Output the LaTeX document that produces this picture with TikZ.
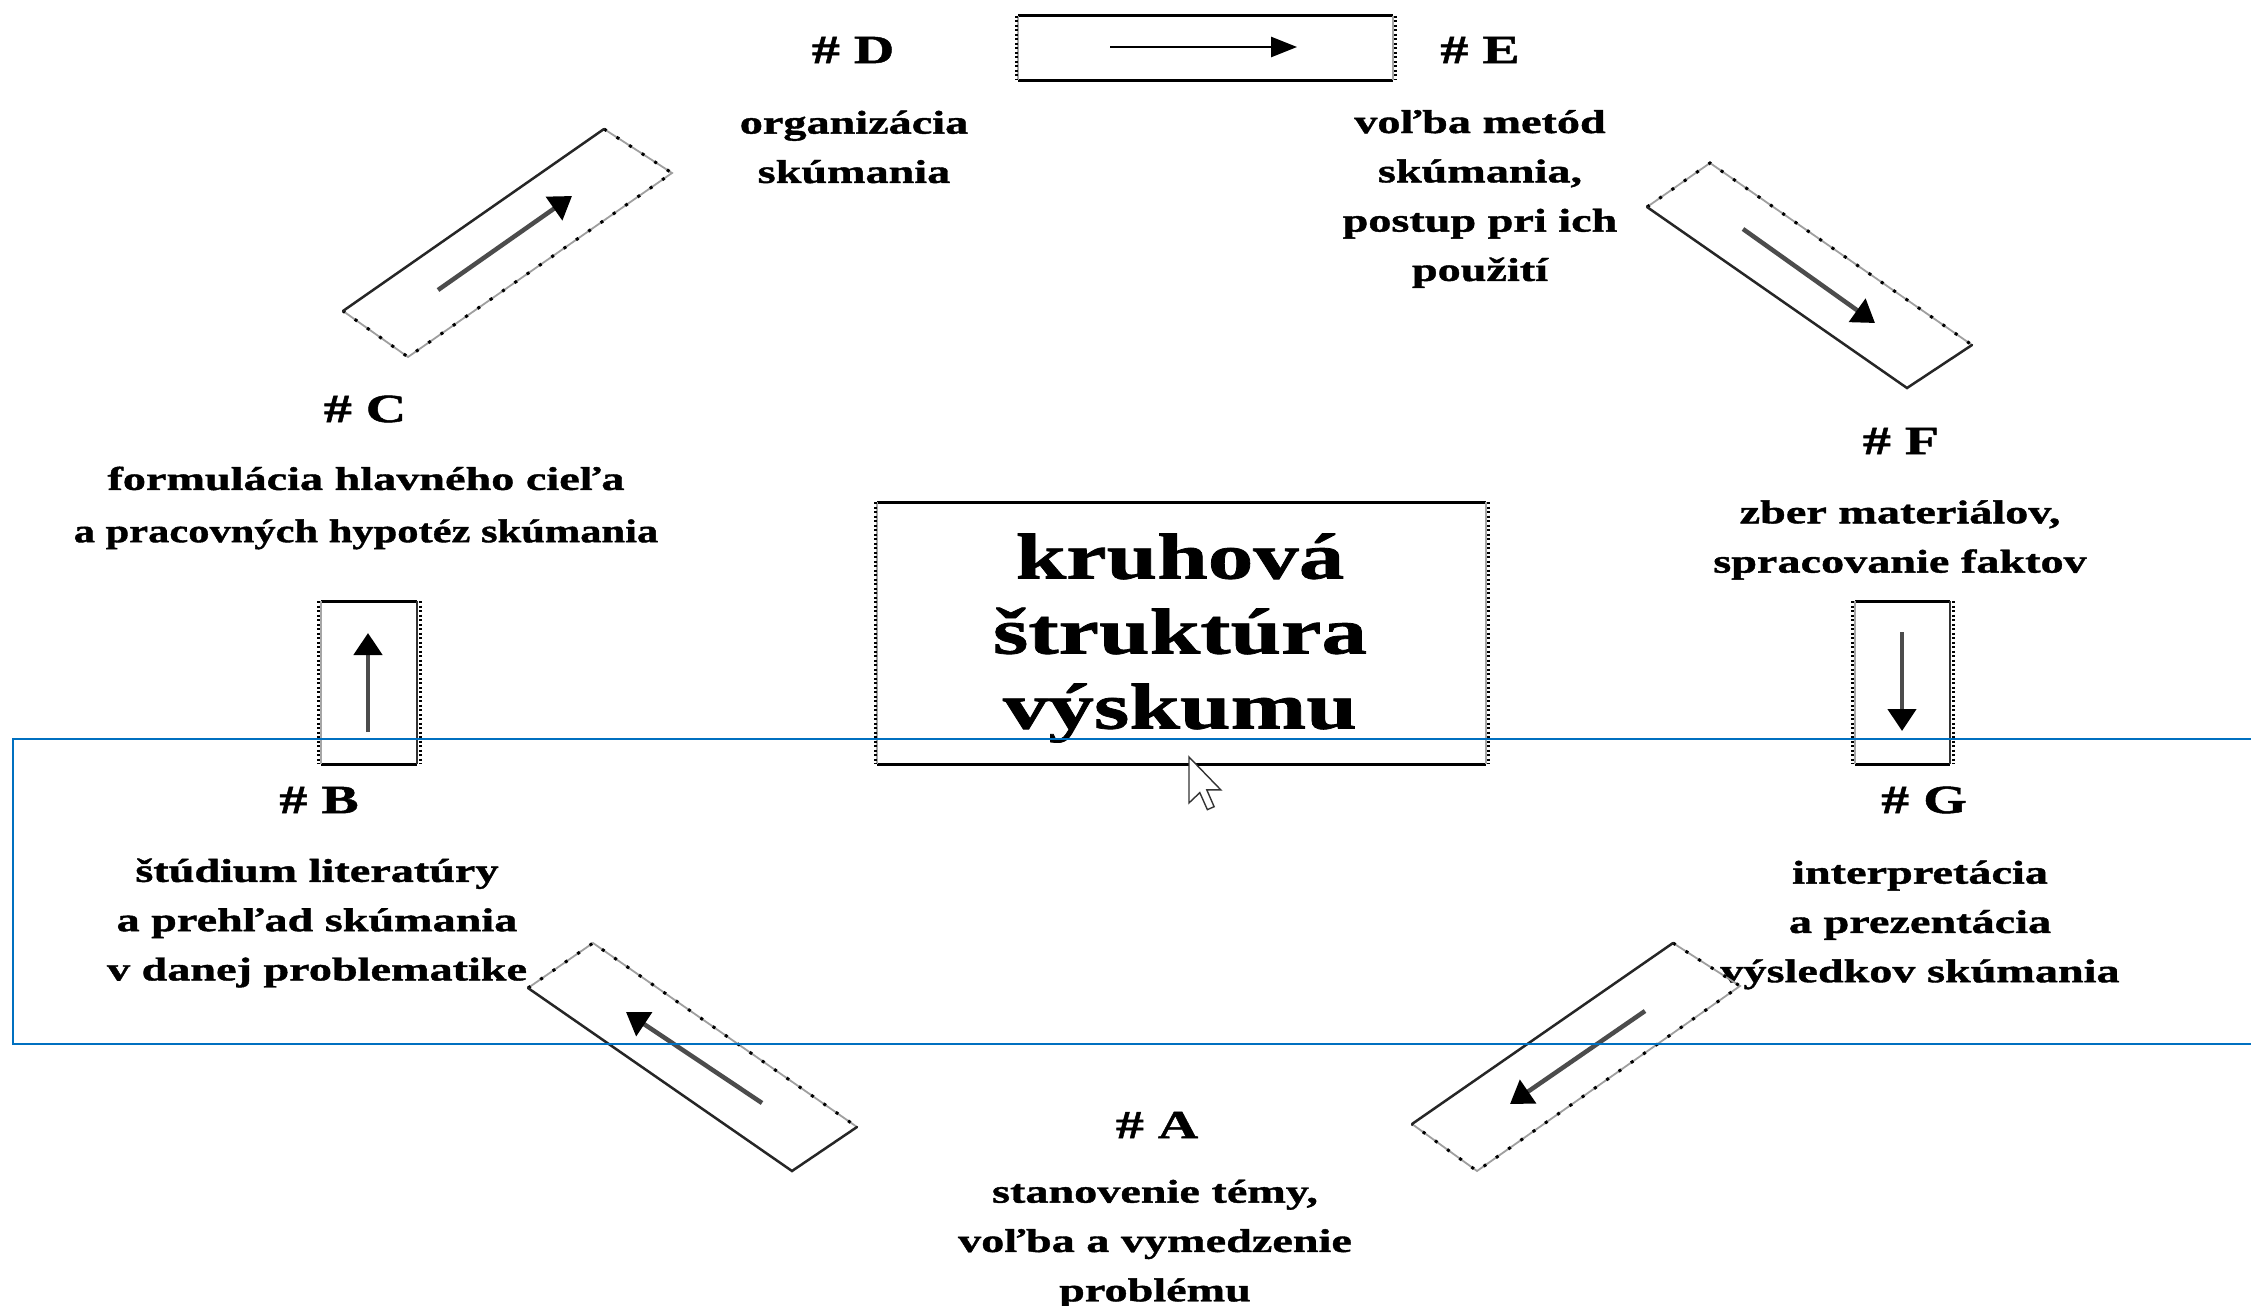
\documentclass[tikz,border=0pt]{standalone}
\usepackage{graphicx}
\usepackage{fontspec}
\setmainfont{Liberation Serif}[FakeStretch=1.4, BoldFeatures={FakeBold=1.2}]
\usetikzlibrary{arrows.meta}
\definecolor{selblue}{RGB}{0,112,192}
\begin{document}
\begin{tikzpicture}[x=1pt,y=-1pt,
  hdr/.style={font=\fontsize{40pt}{48pt}\selectfont\bfseries, inner sep=0pt},
  txt/.style={font=\fontsize{33pt}{49.3pt}\selectfont\bfseries, align=center, inner sep=0pt},
  big/.style={font=\fontsize{65pt}{75pt}\selectfont\bfseries, align=center, inner sep=0pt},
  edgeline/.style={line width=3pt, black},
  sideline/.style={line width=2.5pt, gray!70},
  sideticks/.style={line width=3pt, black, dash pattern=on 2pt off 2.5pt},
  dsolid/.style={line width=2.5pt, black!85, line cap=round},
  ddot/.style={line width=1.8pt, gray!75},
  ddotb/.style={line width=3pt, black, dash pattern=on 3pt off 12pt},
  arr/.style={line width=4.5pt, gray!60!black, -{Triangle[length=22pt,width=28pt,color=black]}},
  arrk/.style={line width=2.5pt, black, -{Triangle[length=26pt,width=20pt]}},
]
\useasboundingbox (0,0) rectangle (2251,1306);
\fill[white] (0,0) rectangle (2251,1306);

% ---- stage labels ----
\node[hdr] (hD) at (853,50) {\# D};
\node[txt] (tD) at (854,147) {organizácia\\skúmania};
\node[hdr] (hE) at (1480,50) {\# E};
\node[txt] (tE) at (1480,199) {voľba metód\\skúmania,\\postup pri ich\\použití};
\node[hdr] (hF) at (1901,441) {\# F};
\node[txt] (tF) at (1900,540) {zber materiálov,\\spracovanie faktov};
\node[hdr] (hG) at (1924,800) {\# G};
\node[txt] (tG) at (1920,925) {interpretácia\\a prezentácia\\výsledkov skúmania};
\node[hdr] (hA) at (1157,1125) {\# A};
\node[txt] (tA) at (1155,1244) {stanovenie témy,\\voľba a vymedzenie\\problému};
\node[hdr] (hB) at (319,800) {\# B};
\node[txt] (tB) at (317,923) {štúdium literatúry\\a prehľad skúmania\\v danej problematike};
\node[hdr] (hC) at (365,409) {\# C};
\node[txt] (tC) at (366,508) {formulácia hlavného cieľa\\[3pt]\scalebox{0.92}[1]{a pracovných hypotéz skúmania}};

% ---- central box ----
\coordinate (cb1) at (877,502); \coordinate (cb2) at (1486,502);
\coordinate (cb3) at (1486,764); \coordinate (cb4) at (877,764);
\draw[edgeline] (cb1) -- (cb2); \draw[edgeline] (cb4) -- (cb3);
\draw[sideline] (cb1) -- (cb4); \draw[sideline] (cb2) -- (cb3);
\draw[sideticks] ([xshift=-2pt]cb1) -- ([xshift=-2pt]cb4);
\draw[sideticks] ([xshift=2pt]cb2) -- ([xshift=2pt]cb3);
\node[big] (center) at (1180,638) {kruhová\\štruktúra\\výskumu};

% ---- top box D -> E ----
\coordinate (tb1) at (1018,16); \coordinate (tb2) at (1393,16);
\coordinate (tb3) at (1393,80); \coordinate (tb4) at (1018,80);
\draw[edgeline] (tb1) -- (tb2); \draw[edgeline] (tb4) -- (tb3);
\draw[sideline] (tb1) -- (tb4); \draw[sideline] (tb2) -- (tb3);
\draw[sideticks] ([xshift=-2pt]tb1) -- ([xshift=-2pt]tb4);
\draw[sideticks] ([xshift=2pt]tb2) -- ([xshift=2pt]tb3);
\coordinate (aDE1) at (1110,47); \coordinate (aDE2) at (1297,47);
\draw[arrk] (aDE1) -- (aDE2);

% ---- left vertical box B -> C ----
\coordinate (lb1) at (321,601); \coordinate (lb2) at (417,601);
\coordinate (lb3) at (417,764); \coordinate (lb4) at (321,764);
\draw[edgeline] (lb1) -- (lb2); \draw[edgeline] (lb4) -- (lb3);
\draw[sideline] (lb1) -- (lb4); \draw[sideline, gray!40!black] (lb2) -- (lb3);
\draw[sideticks] ([xshift=-3pt]lb1) -- ([xshift=-3pt]lb4);
\draw[sideticks] ([xshift=3pt]lb2) -- ([xshift=3pt]lb3);
\coordinate (aBC1) at (368,732); \coordinate (aBC2) at (368,633);
\draw[arr] (aBC1) -- (aBC2);

% ---- right vertical box F -> G ----
\coordinate (rb1) at (1855,601); \coordinate (rb2) at (1950,601);
\coordinate (rb3) at (1950,764); \coordinate (rb4) at (1855,764);
\draw[edgeline] (rb1) -- (rb2); \draw[edgeline] (rb4) -- (rb3);
\draw[sideline] (rb1) -- (rb4); \draw[sideline, gray!40!black] (rb2) -- (rb3);
\draw[sideticks] ([xshift=-3pt]rb1) -- ([xshift=-3pt]rb4);
\draw[sideticks] ([xshift=3pt]rb2) -- ([xshift=3pt]rb3);
\coordinate (aFG1) at (1902,632); \coordinate (aFG2) at (1902,731);
\draw[arr] (aFG1) -- (aFG2);

% ---- diagonal box C -> D ----
\coordinate (p1) at (343,311); \coordinate (p2) at (604,129);
\coordinate (p3) at (672,173); \coordinate (p4) at (408,357);
\draw[ddot] (p2) -- (p3) -- (p4) -- (p1);
\draw[ddotb] (p2) -- (p3) -- (p4) -- (p1);
\draw[dsolid] (p1) -- (p2);
\coordinate (aCD1) at (438,290); \coordinate (aCD2) at (572,196);
\draw[arr] (aCD1) -- (aCD2);

% ---- diagonal box E -> F ----
\coordinate (q1) at (1647,207); \coordinate (q2) at (1710,163);
\coordinate (q3) at (1972,345); \coordinate (q4) at (1907,388);
\draw[ddot] (q1) -- (q2) -- (q3);
\draw[ddotb] (q1) -- (q2) -- (q3);
\draw[dsolid] (q1) -- (q4) -- (q3);
\coordinate (aEF1) at (1743,229); \coordinate (aEF2) at (1875,323);
\draw[arr] (aEF1) -- (aEF2);

% ---- diagonal box G -> A ----
\coordinate (r1) at (1412,1124); \coordinate (r2) at (1673,943);
\coordinate (r3) at (1740,986); \coordinate (r4) at (1477,1171);
\draw[ddot] (r2) -- (r3) -- (r4) -- (r1);
\draw[ddotb] (r2) -- (r3) -- (r4) -- (r1);
\draw[dsolid] (r1) -- (r2);
\coordinate (aGA1) at (1645,1011); \coordinate (aGA2) at (1510,1104);
\draw[arr] (aGA1) -- (aGA2);

% ---- diagonal box A -> B ----
\coordinate (s1) at (528,988); \coordinate (s2) at (593,943);
\coordinate (s3) at (857,1127); \coordinate (s4) at (792,1171);
\draw[ddot] (s1) -- (s2) -- (s3);
\draw[ddotb] (s1) -- (s2) -- (s3);
\draw[dsolid] (s1) -- (s4) -- (s3);
\coordinate (aAB1) at (762,1103); \coordinate (aAB2) at (626,1012);
\draw[arr] (aAB1) -- (aAB2);

% ---- selection rectangle ----
\draw[selblue, line width=2.5pt] (13,739) rectangle (2280,1044);

% ---- mouse cursor ----
\begin{scope}[shift={(1189,757)}, scale=2.7]
  \draw[fill=white, draw=black!80, line width=1.4pt, line join=miter]
    (0,0) -- (0,17) -- (4,13.2) -- (6.8,19.5) -- (9.3,18.4) -- (6.6,12.2) -- (11.8,12.2) -- cycle;
\end{scope}
\end{tikzpicture}
\end{document}
